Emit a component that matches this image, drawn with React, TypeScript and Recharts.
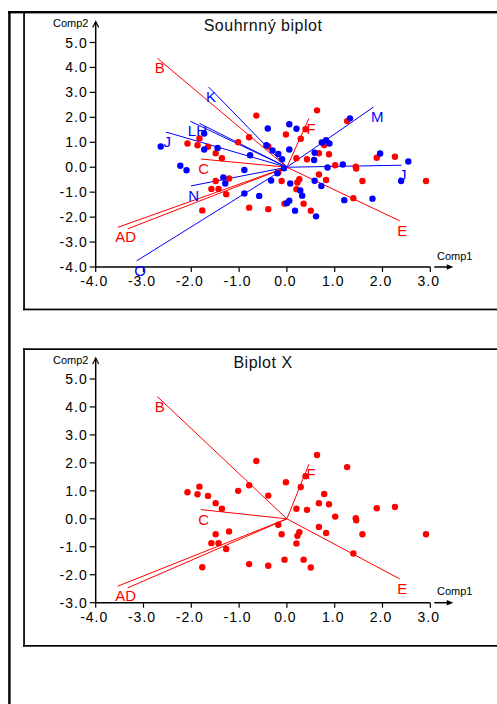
import React from 'react';
import { ScatterChart, Scatter, XAxis, YAxis, ReferenceLine } from 'recharts';

const xTicks = [-4, -3, -2, -1, 0, 1, 2, 3];
const yTicksSummary = [-4, -3, -2, -1, 0, 1, 2, 3, 4, 5];
const yTicksX = [-3, -2, -1, 0, 1, 2, 3, 4, 5];

// X-block object scores (red)
const redComp1 = [-0.64, -1.83, -2.08, -1.87, -1.65, -1.02, -0.79, -0.39, -0.02, -1.49, -1.36, 0.29, 0.39, 0.2, 0.42, -1.21, -1.49, -1.58, -1.43, -1.27, -0.18, -0.11, 0.2, 0.26, 0.22, -1.77, -0.79, -0.39, -0.05, 0.35, 0.63, 1.26, 0.78, 0.67, 0.88, 1.88, 2.26, 1.01, 1.44, 1.45, 0.67, 0.82, 1.58, 2.91, 1.39, 0.5];
const redComp2 = [2.07, 1.15, 0.95, 0.88, 0.82, 1.0, 1.2, 0.83, 1.31, 0.56, 0.36, 1.14, 1.52, 0.36, 0.32, -0.45, -0.55, -0.87, -0.87, -1.08, -0.21, -0.55, -0.88, -0.48, -0.61, -1.73, -1.62, -1.68, -1.46, -1.46, 2.28, 1.85, 0.89, 0.56, 0.52, 0.38, 0.42, 0.08, 0.02, -0.05, -0.29, -0.51, -0.55, -0.55, -1.24, -1.74];

// Y-block object scores (blue)
const blueComp1 = [-2.64, -1.73, -1.73, -1.45, -0.77, -0.4, 0.05, 0.2, -0.43, -0.3, -0.18, -0.1, 0.05, -2.23, -2.1, -0.89, -1.33, -1.29, -0.89, -0.58, -0.2, -0.33, 0.07, 0.28, 0.32, 0.05, 0.0, 0.17, 0.61, 0.58, 0.72, 1.2, 1.79, 2.39, 2.54, 1.95, 1.17, 0.85, 0.57, 0.58, 0.73, 0.82, 0.89, 1.32, -0.06];
const blueComp2 = [0.83, 1.35, 0.71, 0.77, 0.48, 1.55, 1.72, 1.54, 0.88, 0.67, 0.53, 0.32, 0.71, 0.06, -0.12, -0.11, -0.41, -0.65, -1.05, -1.15, -0.24, -0.53, -0.65, -0.93, -1.14, -1.34, -1.44, -1.74, -1.97, -0.54, -0.75, -1.32, -1.26, -0.55, 0.23, 0.55, 0.11, -0.01, 0.29, 0.58, 0.99, 1.08, 0.95, 1.96, -0.04];

// X variable loadings (red vectors)
const xVarComp1 = [-2.71, -1.8, -3.54, -3.33, 2.36, 0.46];
const xVarComp2 = [4.37, 0.33, -2.41, -2.47, -2.15, 1.95];
const xVarLabels = ['B', 'C', 'AD', '', 'E', 'F'];

// Y variable loadings (blue vectors)
const yVarComp1 = [-1.64, -2.02, -1.83, -2.53, 1.81, 2.4, -2.01, -3.14];
const yVarComp2 = [3.22, 1.84, 1.76, 1.41, 2.41, 0.08, -0.75, -3.75];
const yVarLabels = ['K', 'LH', '', 'J', 'M', 'J', 'N', 'O'];

const RED = '#ff0000';
const BLUE = '#0000ff';
const FONT = '"Liberation Sans", Arial, sans-serif';

const tickStyle: React.CSSProperties = { fontFamily: FONT, fontSize: 14, letterSpacing: 1, fill: '#000' };

const YTick = (props: any) => {
  const { x, y, payload } = props;
  return (
    <text x={x} y={y} textAnchor="end" dominantBaseline="central" style={tickStyle}>
      {Number(payload.value).toFixed(1)}
    </text>
  );
};

const XTick = (props: any) => {
  const { x, y, payload } = props;
  return (
    <text x={x - 1.5} y={y} textAnchor="middle" dy="0.71em" style={tickStyle}>
      {Number(payload.value).toFixed(1)}
    </text>
  );
};

const dotShape = (color: string) => (p: any) => <circle cx={p.cx} cy={p.cy} r={3.2} fill={color} />;

const labelShape = (color: string) => (p: any) => (
  <text x={p.cx - 2.5} y={p.cy + 15} fill={color} style={{ fontFamily: FONT, fontSize: 15 }}>
    {p.payload.label}
  </text>
);

const yArrowShape = (p: any) => {
  const { cx, cy } = p;
  return (
    <g>
      <line x1={cx} y1={cy} x2={cx} y2={cy - 20.8} stroke="#000" strokeWidth={1.5} />
      <polyline points={`${cx - 3},${cy - 15} ${cx},${cy - 21} ${cx + 3},${cy - 15}`} fill="none" stroke="#000" strokeWidth={1.2} />
      <text x={cx - 7.2} y={cy - 15.5} textAnchor="end" style={{ fontFamily: FONT, fontSize: 11, fill: '#000' }}>Comp2</text>
    </g>
  );
};

const xArrowShape = (p: any) => {
  const { cx, cy } = p;
  return (
    <g>
      <line x1={cx + 4} y1={cy} x2={cx + 19} y2={cy} stroke="#000" strokeWidth={1.5} />
      <polygon points={`${cx + 23},${cy} ${cx + 16.5},${cy - 2.8} ${cx + 16.5},${cy + 2.8}`} fill="#000" />
      <text x={cx + 6.7} y={cy - 7.5} style={{ fontFamily: FONT, fontSize: 11, fill: '#000' }}>Comp1</text>
    </g>
  );
};

type BiplotProps = {
  top: number;
  height: number;
  marginTop: number;
  marginBottom: number;
  yDomain: [number, number];
  yTicks: number[];
  showBlue: boolean;
};

function Biplot({ top, height, marginTop, marginBottom, yDomain, yTicks, showBlue }: BiplotProps) {
  const red = redComp1.map((x, i) => ({ x, y: redComp2[i] }));
  const blue = blueComp1.map((x, i) => ({ x, y: blueComp2[i] }));
  const redVec = xVarComp1.map((x, i) => ({ x, y: xVarComp2[i], label: xVarLabels[i] }));
  const blueVec = yVarComp1.map((x, i) => ({ x, y: yVarComp2[i], label: yVarLabels[i] }));
  const yTop = yDomain[1];
  const yBottom = yDomain[0];
  return (
    <div style={{ position: 'absolute', left: 0, top }}>
      <ScatterChart width={497} height={height} margin={{ top: marginTop, right: 66.7, bottom: marginBottom, left: 55.7 }}>
        <XAxis
          type="number"
          dataKey="x"
          domain={[-4, 3]}
          ticks={xTicks}
          interval={0}
          tickSize={5}
          tickMargin={4}
          height={30}
          axisLine={{ stroke: '#000', strokeWidth: 1.5 }}
          tickLine={{ stroke: '#000', strokeWidth: 1.2 }}
          tick={<XTick />}
        />
        <YAxis
          type="number"
          dataKey="y"
          domain={yDomain}
          ticks={yTicks}
          interval={0}
          tickSize={6}
          tickMargin={2}
          width={40}
          axisLine={{ stroke: '#000', strokeWidth: 1.5 }}
          tickLine={{ stroke: '#000', strokeWidth: 1.2 }}
          tick={<YTick />}
        />
        {showBlue &&
          blueVec.map((v, i) => (
            <ReferenceLine key={'b' + i} segment={[{ x: 0, y: 0 }, { x: v.x, y: v.y }]} stroke={BLUE} strokeWidth={1} />
          ))}
        {redVec.map((v, i) => (
          <ReferenceLine key={'r' + i} segment={[{ x: 0, y: 0 }, { x: v.x, y: v.y }]} stroke={RED} strokeWidth={1} />
        ))}
        <Scatter data={red} shape={dotShape(RED)} isAnimationActive={false} />
        {showBlue && <Scatter data={blue} shape={dotShape(BLUE)} isAnimationActive={false} />}
        <Scatter data={redVec} shape={labelShape(RED)} isAnimationActive={false} />
        {showBlue && <Scatter data={blueVec} shape={labelShape(BLUE)} isAnimationActive={false} />}
        <Scatter data={[{ x: -4, y: yTop }]} shape={yArrowShape} isAnimationActive={false} />
        <Scatter data={[{ x: 3, y: yBottom }]} shape={xArrowShape} isAnimationActive={false} />
      </ScatterChart>
    </div>
  );
}

export default function App() {
  return (
    <div style={{ position: 'absolute', left: 0, top: 0, width: 497, height: 704, overflow: 'hidden', background: '#fff' }}>
      <svg width={497} height={704} style={{ position: 'absolute', left: 0, top: 0 }}>
        {/* outer frame */}
        <rect x={8} y={11} width={489} height={2.4} fill="#000" />
        <rect x={8.2} y={11} width={2.4} height={693} fill="#000" />
        {/* panel 1 frame */}
        <rect x={23.2} y={12} width={1.7} height={298.3} fill="#000" />
        <rect x={23.2} y={308.6} width={474} height={1.7} fill="#000" />
        {/* panel 2 frame */}
        <rect x={23.2} y={348.3} width={474} height={1.7} fill="#000" />
        <rect x={23.2} y={348.3} width={1.7} height={298.4} fill="#000" />
        <rect x={23.2} y={645} width={474} height={1.7} fill="#000" />
        <text x={263} y={31} textAnchor="middle" style={{ fontFamily: FONT, fontSize: 16, letterSpacing: 0.5, fill: '#111' }}>
          Souhrnný biplot
        </text>
        <text x={263} y={368} textAnchor="middle" style={{ fontFamily: FONT, fontSize: 16, letterSpacing: 0.5, fill: '#111' }}>
          Biplot X
        </text>
      </svg>
      <Biplot top={0} height={310} marginTop={42.5} marginBottom={13} yDomain={[-4, 5]} yTicks={yTicksSummary} showBlue={true} />
      <Biplot top={330} height={316} marginTop={49} marginBottom={13.3} yDomain={[-3, 5]} yTicks={yTicksX} showBlue={false} />
    </div>
  );
}
